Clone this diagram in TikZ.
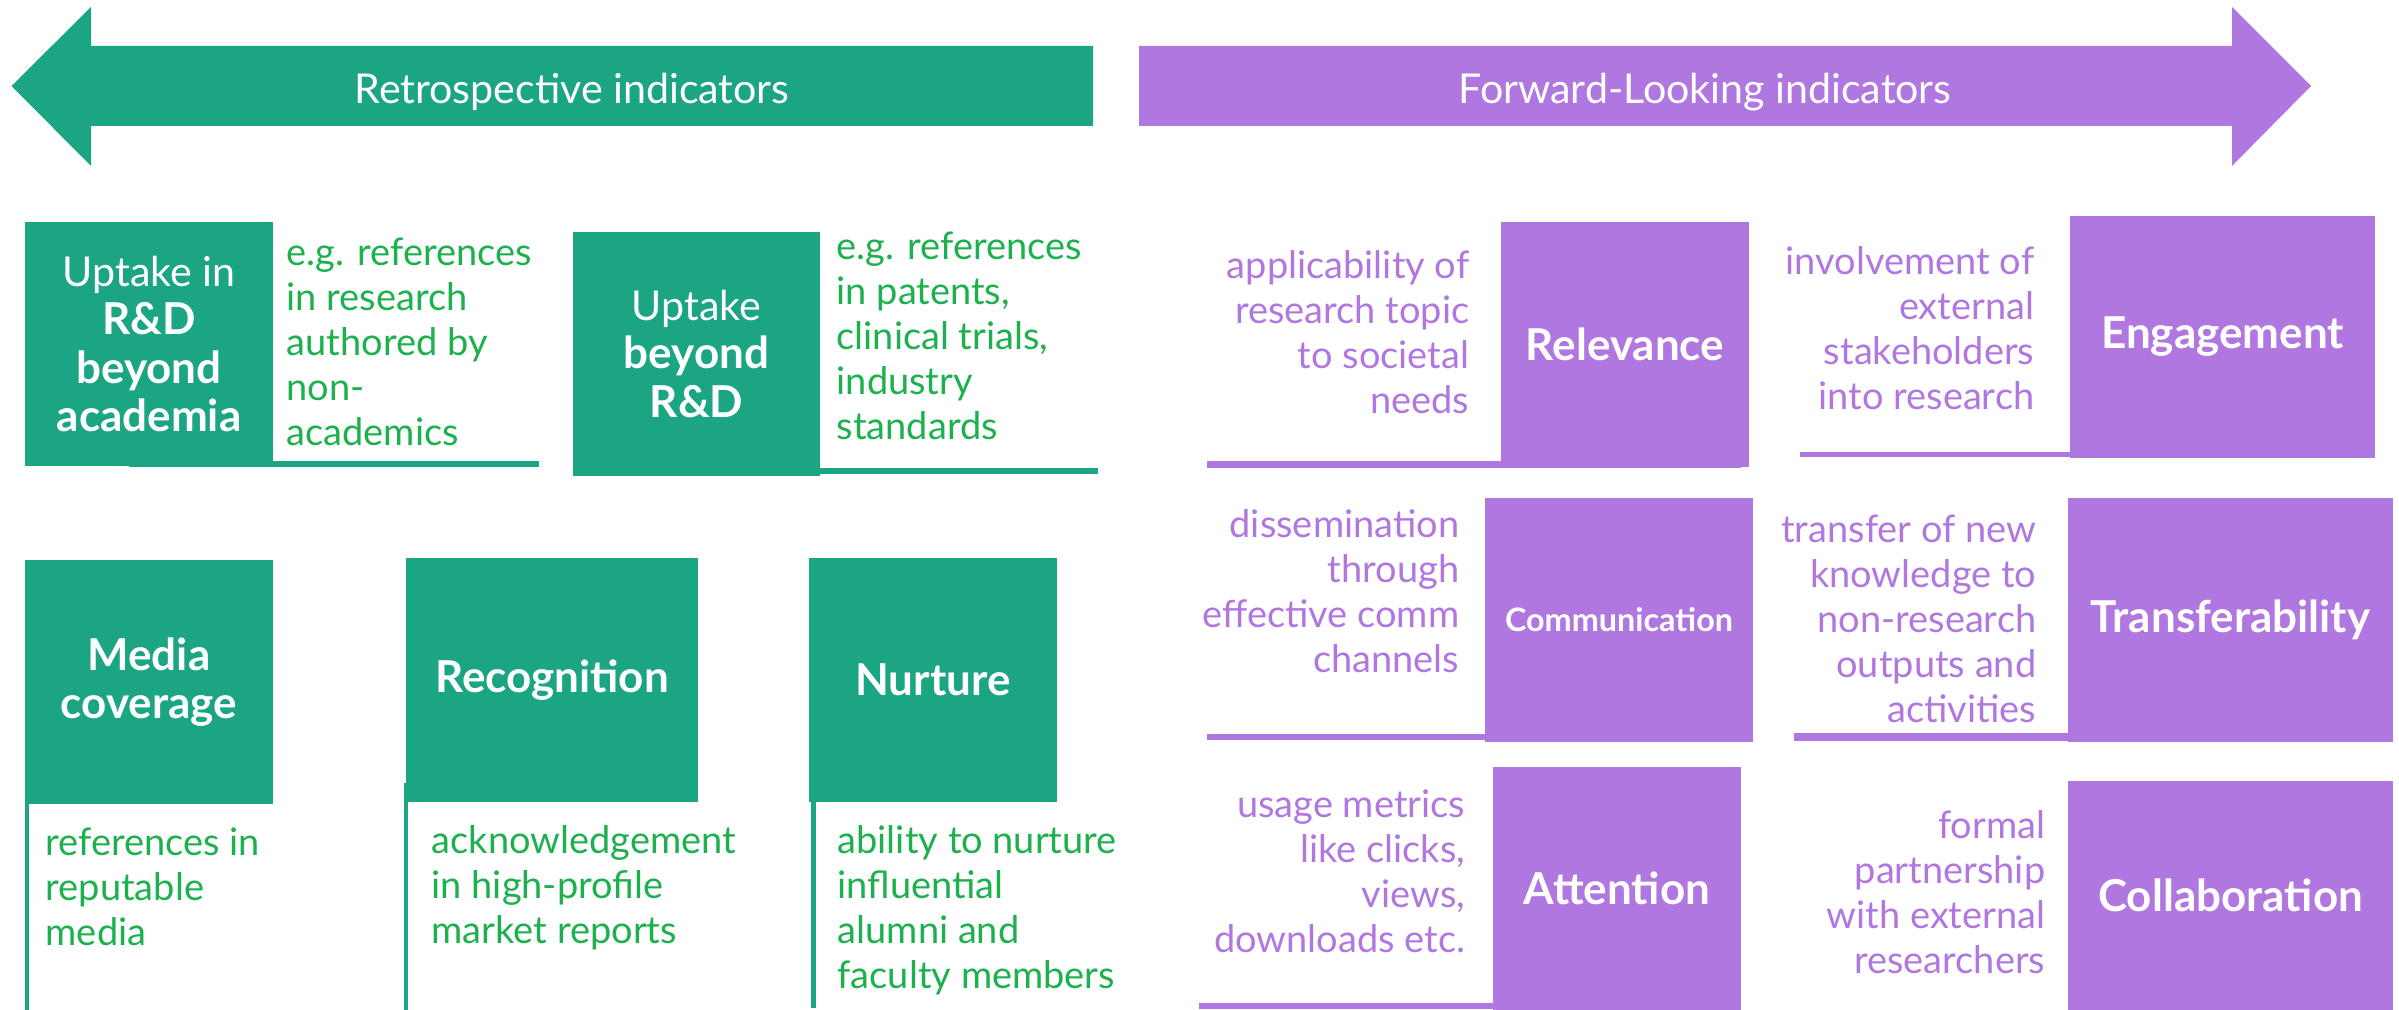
\documentclass[tikz,border=0pt]{standalone}
\usepackage{fontspec}
\setmainfont{Lato}
\definecolor{gfill}{HTML}{1BA583}
\definecolor{gtext}{HTML}{1DB04E}
\definecolor{pfill}{HTML}{B077E0}
\definecolor{ptext}{HTML}{B077E0}
\newcommand{\regline}[1]{{\fontsize{11.7}{13.7}\selectfont\mdseries #1}}
\tikzset{
  gbox/.style={fill=gfill, text=white, inner sep=0pt, align=center, font=\fontsize{12.5}{13.7}\selectfont\bfseries},
  pbox/.style={fill=pfill, text=white, inner sep=0pt, align=center, font=\fontsize{12.5}{13.7}\selectfont\bfseries},
  gdesc/.style={text=gtext, inner sep=0pt, align=left, anchor=north west, font=\fontsize{10.8}{12.8}\selectfont},
  pdesc/.style={text=ptext, inner sep=0pt, align=right, anchor=north east, font=\fontsize{10.8}{12.8}\selectfont},
  head/.style={text=white, inner sep=0pt, anchor=base, font=\fontsize{11.7}{13}\selectfont},
}
\begin{document}
\begin{tikzpicture}[x=0.01cm, y=-0.01cm]
\useasboundingbox (0,0) rectangle (2399,1010);
% header arrows
\fill[gfill] (11.5,86) -- (91,7) -- (91,46) -- (1093,46) -- (1093,126) -- (91,126) -- (91,166) -- cycle;
\fill[pfill] (1139,46) -- (2232,46) -- (2232,7) -- (2311,86) -- (2232,166) -- (2232,126) -- (1139,126) -- cycle;
\node[head] (hretro) at (572,104) {Retrospective indicators};
\node[head] (hfwd) at (1705,104) {Forward-Looking indicators};

% left row 1
\fill[gfill] (129,461) rectangle (539,467);
\fill[gfill] (820,468) rectangle (1098,474);
\node[gbox, minimum width=2.48cm, minimum height=2.44cm] (b1) at (149,344) {\regline{Uptake in}\\R\&D\\beyond\\academia};
\node[gdesc] (d1) at (286,233.5) {\strut e.g. references\\in research\\authored by\\non-\\academics};
\node[gbox, minimum width=2.47cm, minimum height=2.44cm] (b2) at (696.5,354) {\regline{Uptake}\\beyond\\R\&D};
\node[gdesc] (d2) at (836,227.5) {\strut e.g. references\\in patents,\\clinical trials,\\industry\\standards};

% left row 2
\fill[gfill] (25,780) rectangle (29,1010);
\fill[gfill] (404,783) rectangle (408,1010);
\fill[gfill] (811,802) rectangle (816,1008);
\node[gbox, minimum width=2.48cm, minimum height=2.44cm] (b3) at (149,682) {Media\\coverage};
\node[gdesc] (d3) at (45,823.5) {\strut references in\\reputable\\media};
\node[gbox, minimum width=2.92cm, minimum height=2.44cm] (b4) at (552,680) {Recognition};
\node[gdesc] (d4) at (431,821.5) {\strut acknowledgement\\in high-profile\\market reports};
\node[gbox, minimum width=2.48cm, minimum height=2.44cm] (b5) at (933,680) {Nurture};
\node[gdesc] (d5) at (837,821.5) {\strut ability to nurture\\influential\\alumni and\\faculty members};

% right column A
\fill[pfill] (1207,461) rectangle (1741,468);
\fill[pfill] (1207,734) rectangle (1485,740);
\fill[pfill] (1199,1003) rectangle (1493,1009);
\node[pbox, minimum width=2.48cm, minimum height=2.45cm] (r1) at (1625,344.5) {Relevance};
\node[pdesc] (e1) at (1470,246.5) {\strut applicability of\\research topic\\to societal\\needs};
\node[pbox, minimum width=2.68cm, minimum height=2.44cm, font=\fontsize{9.2}{10}\selectfont\bfseries] (r2) at (1619,620) {Communication};
\node[pdesc] (e2) at (1460,505.5) {\strut dissemination\\through\\effective comm\\channels};
\node[pbox, minimum width=2.48cm, minimum height=2.43cm] (r3) at (1617,888.5) {Attention};
\node[pdesc] (e3) at (1466,785.5) {\strut usage metrics\\like clicks,\\views,\\downloads etc.};

% right column B
\fill[pfill] (1800,452) rectangle (2311,457);
\fill[pfill] (1794,733) rectangle (2309,741);
\node[pbox, minimum width=3.05cm, minimum height=2.42cm] (s1) at (2222.5,337) {Engagement};
\node[pdesc] (f1) at (2035,242.5) {\strut involvement of\\external\\stakeholders\\into research};
\node[pbox, minimum width=3.25cm, minimum height=2.44cm] (s2) at (2230.5,620) {Transferability};
\node[pdesc] (f2) at (2037,510.5) {\strut transfer of new\\knowledge to\\non-research\\outputs and\\activities};
\node[pbox, minimum width=3.25cm, minimum height=2.29cm] (s3) at (2230.5,895.5) {Collaboration};
\node[pdesc] (f3) at (2046,806.5) {\strut formal\\partnership\\with external\\researchers};
\end{tikzpicture}
\end{document}
